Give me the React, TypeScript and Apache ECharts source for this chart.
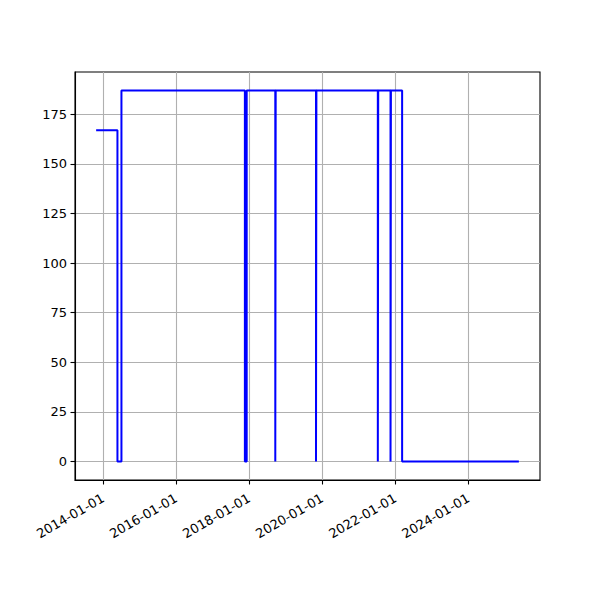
import React, { useEffect, useRef } from "react";
import * as echarts from "echarts";

// Dates at which the value changes, and the value held from that date on
const changeDates = [
  "2013-10-24", "2014-05-25", "2014-07-04",
  "2017-11-19", "2017-12-07",
  "2018-09-19", "2018-09-23",
  "2019-10-31", "2019-11-04",
  "2021-07-10", "2021-07-14",
  "2021-11-14", "2021-11-18",
  "2022-03-10", "2025-05-20",
];
const changeValues = [167, 0, 187, 0, 187, 0, 187, 0, 187, 0, 187, 0, 187, 0, 0];

const xTickLabels = ["2014-01-01", "2016-01-01", "2018-01-01", "2020-01-01", "2022-01-01", "2024-01-01"];
const yTickValues = [0, 25, 50, 75, 100, 125, 150, 175];

const toTs = (s: string) => new Date(s + "T00:00:00Z").getTime();
const pad = (n: number) => (n < 10 ? "0" + n : "" + n);
const fmtDate = (v: number) => {
  const d = new Date(v);
  return `${d.getUTCFullYear()}-${pad(d.getUTCMonth() + 1)}-${pad(d.getUTCDate())}`;
};

export default function App() {
  const ref = useRef<HTMLDivElement>(null);
  useEffect(() => {
    if (!ref.current) return;
    const chart = echarts.init(ref.current, null, { renderer: "svg" });
    const data = changeDates.map((d, i) => [toTs(d), changeValues[i]]);
    const xs = data.map((p) => p[0] as number);
    const ys = changeValues;
    const xMin = Math.min(...xs), xMax = Math.max(...xs);
    const yMin = Math.min(...ys), yMax = Math.max(...ys);
    const xPad = (xMax - xMin) * 0.05;
    const yPad = (yMax - yMin) * 0.05;
    const xTicks = xTickLabels.map(toTs);
    const font = "DejaVu Sans";
    chart.setOption({
      animation: false,
      backgroundColor: "#ffffff",
      grid: {
        left: 67, right: 68, top: 64, bottom: 128,
        show: true, borderColor: "#000000", borderWidth: 1.1,
        containLabel: false,
      },
      xAxis: {
        type: "value",
        min: xMin - xPad,
        max: xMax + xPad,
        axisLine: { show: true, onZero: false, lineStyle: { color: "#000", width: 1.1 } },
        axisTick: { show: true, length: 4.5, lineStyle: { color: "#000", width: 1.1 }, customValues: xTicks },
        axisLabel: {
          show: true,
          customValues: xTicks,
          rotate: 30,
          margin: 17,
          color: "#000",
          fontFamily: font,
          fontSize: 13,
          formatter: (v: number) => fmtDate(v),
        },
        splitLine: { show: true, lineStyle: { color: "#b0b0b0", width: 1.1 } },
      },
      yAxis: {
        type: "value",
        min: yMin - yPad,
        max: yMax + yPad,
        axisLine: { show: true, onZero: false, lineStyle: { color: "#000", width: 1.1 } },
        axisTick: { show: true, length: 4.5, lineStyle: { color: "#000", width: 1.1 }, customValues: yTickValues },
        axisLabel: {
          show: true,
          customValues: yTickValues,
          margin: 8,
          color: "#000",
          fontFamily: font,
          fontSize: 13,
        },
        splitLine: { show: true, lineStyle: { color: "#b0b0b0", width: 1.1 } },
      },
      series: [
        {
          type: "line",
          step: "end",
          data,
          showSymbol: false,
          lineStyle: { color: "#0000ff", width: 2 },
          itemStyle: { color: "#0000ff" },
        },
      ],
    });
    return () => chart.dispose();
  }, []);
  return <div ref={ref} style={{ width: 600, height: 600 }} />;
}
